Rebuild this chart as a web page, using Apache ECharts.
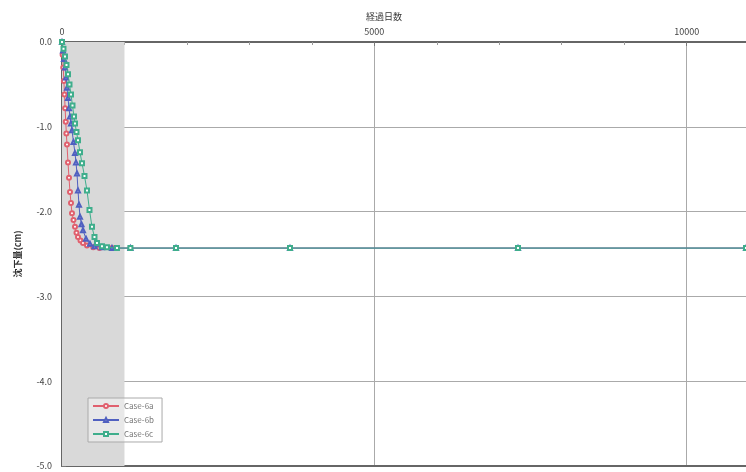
<!DOCTYPE html>
<html>
<head>
<meta charset="utf-8">
<script src="https://cdn.jsdelivr.net/npm/echarts@6/dist/echarts.min.js"></script>
<style>
  html, body { margin: 0; padding: 0; background: #fff; }
  #chart { width: 746px; height: 472px; }
</style>
</head>
<body>
<div id="chart"></div>
<script>
// elapsed days / settlement (cm)
const days6a = [0, 10, 20, 30, 40, 50, 60, 70, 80, 96, 112, 128, 144, 160, 184, 208, 232, 256, 296, 336, 400, 500, 600, 800, 1095, 1825, 3650, 7300, 10950];
const vals6a = [0, -0.15, -0.3, -0.46, -0.62, -0.78, -0.94, -1.08, -1.21, -1.42, -1.6, -1.77, -1.9, -2.02, -2.1, -2.18, -2.25, -2.3, -2.34, -2.37, -2.4, -2.42, -2.43, -2.43, -2.43, -2.43, -2.43, -2.43, -2.43];

const days6b = [0, 16, 32, 48, 64, 80, 96, 112, 128, 144, 160, 184, 208, 224, 240, 256, 272, 288, 312, 336, 384, 448, 520, 640, 800, 1095, 1825, 3650, 7300, 10950];
const vals6b = [0, -0.1, -0.2, -0.3, -0.42, -0.54, -0.66, -0.78, -0.88, -0.96, -1.04, -1.18, -1.31, -1.42, -1.55, -1.75, -1.92, -2.06, -2.15, -2.22, -2.32, -2.38, -2.41, -2.42, -2.43, -2.43, -2.43, -2.43, -2.43, -2.43];

const days6c = [0, 24, 48, 72, 96, 120, 144, 168, 192, 208, 232, 256, 288, 320, 360, 400, 440, 480, 520, 560, 640, 720, 880, 1095, 1825, 3650, 7300, 10950];
const vals6c = [0, -0.08, -0.17, -0.27, -0.38, -0.5, -0.62, -0.75, -0.88, -0.96, -1.06, -1.16, -1.3, -1.43, -1.58, -1.75, -1.98, -2.18, -2.3, -2.37, -2.41, -2.42, -2.43, -2.43, -2.43, -2.43, -2.43, -2.43];

const seriesNames = ['Case-6a', 'Case-6b', 'Case-6c'];
const shadeRange = [0, 1000];

const pairs = (xs, ys) => xs.map((x, i) => [x, ys[i]]);

const chart = echarts.init(document.getElementById('chart'));
const font = '"Noto Sans CJK JP", "DejaVu Sans", sans-serif';

const option = {
  animation: false,
  textStyle: { fontFamily: font },
  title: {
    text: '経過日数',
    left: 361,
    top: 7,
    textStyle: { fontSize: 9, fontWeight: 'normal', color: '#333', fontFamily: font }
  },
  grid: { left: 62, top: 42, right: 0, bottom: 6, containLabel: false, outerBoundsMode: 'none' },
  legend: {
    orient: 'vertical',
    left: 88,
    top: 398,
    itemWidth: 26,
    itemHeight: 5,
    itemGap: 6,
    padding: [4, 8, 4, 4],
    borderColor: '#aaa',
    borderWidth: 1,
    backgroundColor: 'rgba(255,255,255,0.4)',
    textStyle: { fontSize: 8, color: '#777' },
    data: seriesNames
  },
  xAxis: [
    {
      type: 'value',
      position: 'top',
      min: 0,
      max: 10950,
      interval: 5000,
      axisLine: { onZero: false, lineStyle: { color: '#666', width: 2 } },
      axisTick: { show: true, inside: true, length: 4, lineStyle: { color: '#777' } },
      minorTick: { show: true, splitNumber: 5, length: 3, lineStyle: { color: '#999' } },
      axisLabel: { fontSize: 9, color: '#444', margin: 6, showMaxLabel: false, formatter: v => String(v) },
      splitLine: { show: true, lineStyle: { color: '#aaa', width: 1 } }
    },
    {
      // plain bottom frame line
      type: 'value',
      position: 'bottom',
      min: 0,
      max: 10950,
      axisLine: { onZero: false, lineStyle: { color: '#666', width: 2 } },
      axisTick: { show: false },
      axisLabel: { show: false },
      splitLine: { show: false }
    }
  ],
  yAxis: {
    type: 'value',
    min: -5,
    max: 0,
    interval: 1,
    name: '沈下量(cm)',
    nameLocation: 'middle',
    nameGap: 40,
    nameRotate: 90,
    nameTextStyle: { fontSize: 9, color: '#333', fontWeight: 'bold' },
    axisLine: { lineStyle: { color: '#666', width: 2 } },
    axisTick: { show: true, inside: true, length: 4, lineStyle: { color: '#777' } },
    minorTick: { show: true, splitNumber: 2, length: 3, lineStyle: { color: '#999' } },
    axisLabel: { fontSize: 9, color: '#444', margin: 10, formatter: v => v.toFixed(1) },
    splitLine: { show: true, lineStyle: { color: '#aaa', width: 1 } }
  },
  series: [
    {
      name: seriesNames[0],
      type: 'line',
      data: pairs(days6a, vals6a),
      symbol: 'emptyCircle',
      symbolSize: 4,
      color: '#e0606e',
      lineStyle: { width: 1 },
      z: 3,
      markArea: {
        silent: true,
        itemStyle: { color: '#d9d9d9' },
        data: [[{ xAxis: shadeRange[0] }, { xAxis: shadeRange[1] }]]
      }
    },
    {
      name: seriesNames[1],
      type: 'line',
      data: pairs(days6b, vals6b),
      symbol: 'emptyTriangle',
      symbolSize: 4,
      color: '#5060c0',
      lineStyle: { width: 1 },
      z: 4
    },
    {
      name: seriesNames[2],
      type: 'line',
      data: pairs(days6c, vals6c),
      symbol: 'emptyRect',
      symbolSize: 4,
      color: '#3fae8c',
      lineStyle: { width: 1 },
      z: 5
    }
  ]
};

chart.setOption(option);
</script>
</body>
</html>
